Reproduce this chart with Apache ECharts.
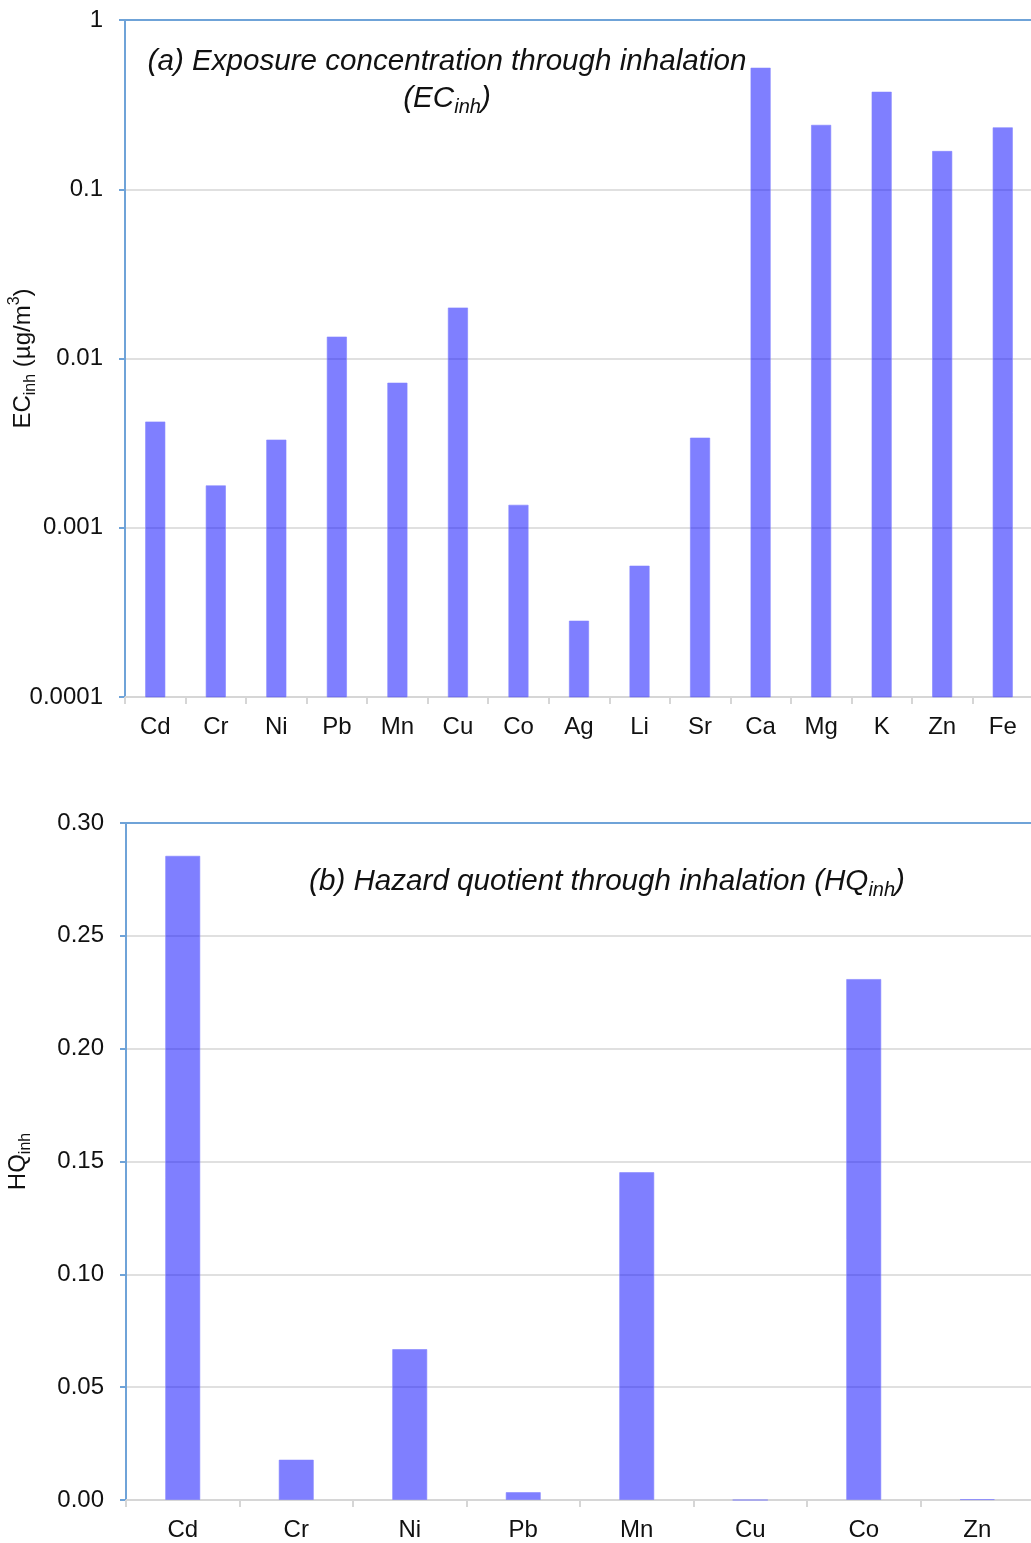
<!DOCTYPE html>
<html>
<head>
<meta charset="utf-8">
<script src="https://cdn.jsdelivr.net/npm/echarts@6/dist/echarts.min.js"></script>
<style>
  html, body { margin: 0; padding: 0; background: #fff; }
  #chart { width: 1031px; height: 1543px; }
</style>
</head>
<body>
<div id="chart"></div>
<script>
// Exposure concentration (µg/m³) per element, log scale
const ecElements = ['Cd', 'Cr', 'Ni', 'Pb', 'Mn', 'Cu', 'Co', 'Ag', 'Li', 'Sr', 'Ca', 'Mg', 'K', 'Zn', 'Fe'];
const ecValues = [0.00422, 0.00177, 0.0033, 0.0134, 0.00716, 0.0199, 0.00136, 0.000281, 0.000594, 0.00339, 0.52, 0.239, 0.375, 0.1675, 0.231];
const ecTicks = ['0.0001', '0.001', '0.01', '0.1', '1'];

// Hazard quotient per element
const hqElements = ['Cd', 'Cr', 'Ni', 'Pb', 'Mn', 'Cu', 'Co', 'Zn'];
const hqValues = [0.2855, 0.0179, 0.0669, 0.0035, 0.1453, 0.0, 0.2309, 0.0004];

const FONT = '"Liberation Sans", Arial, sans-serif';
const BLUE_AXIS = '#6fa3d8';
const GRID_GRAY = '#d6d6d6';
const BAR = 'rgba(0, 0, 255, 0.5)';
const BAR_EDGE = 'rgba(130, 130, 255, 0.6)';
const EC_MIN = 0.0001;

const chart = echarts.init(document.getElementById('chart'));

const yNameRich = {
  n: { fontSize: 24, fontFamily: FONT, color: '#111', lineHeight: 32, verticalAlign: 'middle' },
  sub: { fontSize: 16, fontFamily: FONT, color: '#111', lineHeight: 32, verticalAlign: 'bottom' },
  sup: { fontSize: 16, fontFamily: FONT, color: '#111', lineHeight: 32, verticalAlign: 'top' }
};
const titleRich = {
  t: { fontSize: 29.6, fontFamily: FONT, fontStyle: 'italic', fontWeight: 'normal', color: '#111', lineHeight: 37, verticalAlign: 'middle' },
  s: { fontSize: 20, fontFamily: FONT, fontStyle: 'italic', fontWeight: 'normal', color: '#111', lineHeight: 37, verticalAlign: 'bottom' }
};

function catAxis(gridIndex, data) {
  return {
    type: 'category', gridIndex, data, position: 'bottom',
    axisLine: { show: true, lineStyle: { color: GRID_GRAY, width: 2 } },
    axisTick: { show: true, length: 7, lineStyle: { color: GRID_GRAY, width: 2 } },
    axisLabel: { fontSize: 24, fontFamily: FONT, color: '#111', margin: 18 }
  };
}
function topEdge(gridIndex, data) {
  return {
    type: 'category', gridIndex, data, position: 'top',
    axisLine: { show: true, lineStyle: { color: BLUE_AXIS, width: 2 } },
    axisTick: { show: false }, axisLabel: { show: false }, splitLine: { show: false }
  };
}

// Bars on the log axis rise from the axis floor (0.0001)
function logBar(params, api) {
  const cat = api.value(0);
  const v = api.value(1);
  const top = api.coord([cat, v]);
  const base = api.coord([cat, EC_MIN]);
  const w = api.size([1, 1])[0] * 0.32;
  return {
    type: 'rect',
    shape: { x: top[0] - w / 2, y: top[1], width: w, height: base[1] - top[1] },
    style: { fill: BAR, stroke: BAR_EDGE, lineWidth: 1 }
  };
}

chart.setOption({
  animation: false,
  backgroundColor: '#fff',
  title: [
    {
      text: '{t|(a) Exposure concentration through inhalation}\n{t|(EC}{s|inh}{t|)}',
      left: 442, top: 38, textAlign: 'center',
      textStyle: { rich: titleRich }
    },
    {
      text: '{t|(b) Hazard quotient through inhalation (HQ}{s|inh}{t|)}',
      left: 602, top: 858, textAlign: 'center',
      textStyle: { rich: titleRich }
    }
  ],
  grid: [
    { left: 125, top: 20, width: 908, height: 677, outerBoundsMode: 'none', containLabel: false },
    { left: 126, top: 823, width: 908, height: 677, outerBoundsMode: 'none', containLabel: false }
  ],
  xAxis: [
    catAxis(0, ecElements),
    catAxis(1, hqElements),
    topEdge(0, ecElements),
    topEdge(1, hqElements)
  ],
  yAxis: [
    {
      type: 'log', gridIndex: 0, logBase: 10, min: EC_MIN, max: 1,
      name: '{n|EC}{sub|inh}{n| (µg/m}{sup|3}{n|)}',
      nameLocation: 'middle', nameGap: 86, nameRotate: 90, nameMoveOverlap: false,
      nameTextStyle: { rich: yNameRich },
      axisLine: { show: true, lineStyle: { color: BLUE_AXIS, width: 2 } },
      axisTick: { show: true, length: 6, lineStyle: { color: BLUE_AXIS, width: 2 } },
      minorTick: { show: false },
      axisLabel: {
        fontSize: 24, fontFamily: FONT, color: '#111', margin: 22,
        formatter: v => ecTicks[Math.round(Math.log10(v)) + 4]
      },
      splitLine: { show: true, lineStyle: { color: GRID_GRAY, width: 1.5 } }
    },
    {
      type: 'value', gridIndex: 1, min: 0, max: 0.3, interval: 0.05,
      name: '{n|HQ}{sub|inh}',
      nameLocation: 'middle', nameGap: 92, nameRotate: 90, nameMoveOverlap: false,
      nameTextStyle: { rich: yNameRich },
      axisLine: { show: true, lineStyle: { color: BLUE_AXIS, width: 2 } },
      axisTick: { show: true, length: 6, lineStyle: { color: BLUE_AXIS, width: 2 } },
      axisLabel: {
        fontSize: 24, fontFamily: FONT, color: '#111', margin: 22,
        formatter: v => v.toFixed(2)
      },
      splitLine: { show: true, lineStyle: { color: GRID_GRAY, width: 1.5 } }
    }
  ],
  series: [
    {
      type: 'custom', xAxisIndex: 0, yAxisIndex: 0,
      data: ecValues.map((v, i) => [i, v]),
      encode: { x: 0, y: 1 },
      renderItem: logBar
    },
    {
      type: 'bar', xAxisIndex: 1, yAxisIndex: 1, data: hqValues,
      barWidth: '31%',
      itemStyle: { color: BAR, borderColor: BAR_EDGE, borderWidth: 1 }
    }
  ]
});
</script>
</body>
</html>
